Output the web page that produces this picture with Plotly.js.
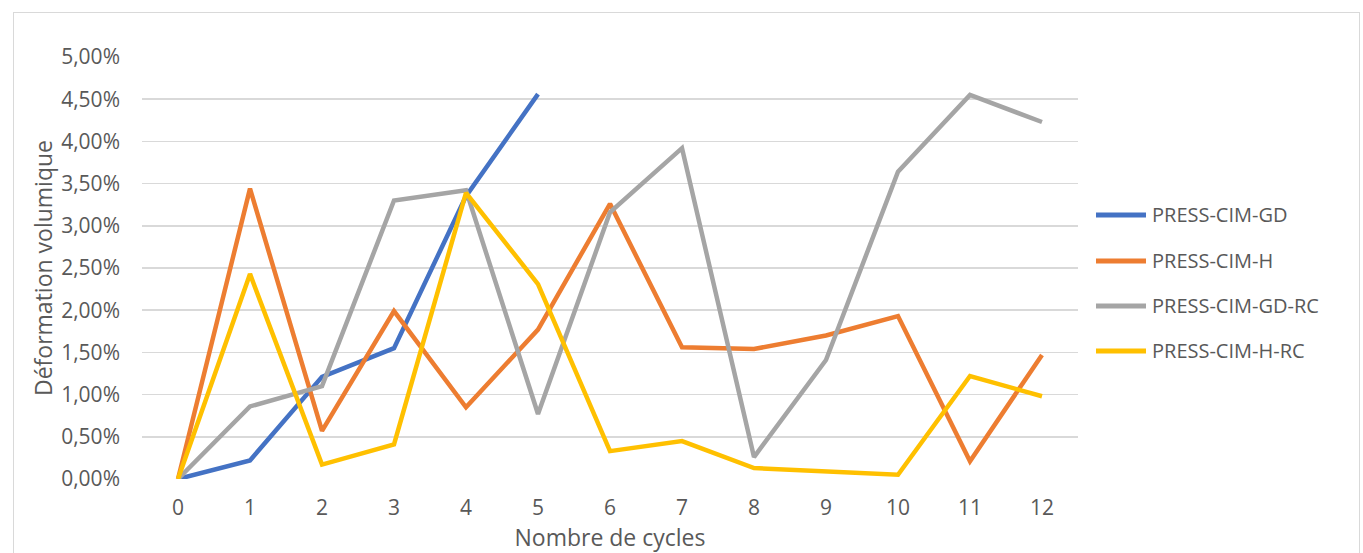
<!DOCTYPE html>
<html>
<head>
<meta charset="utf-8">
<script src="https://cdn.plot.ly/plotly-3.0.1.min.js"></script>
<style>
  html, body { margin: 0; padding: 0; background: #ffffff; }
  #frame { position: absolute; left: 13px; top: 12px; width: 1347px; height: 560px; border: 1px solid #d9d9d9; box-sizing: border-box; }
  #chart { position: absolute; left: 0; top: 0; width: 1363px; height: 553px; }
</style>
</head>
<body>
<div id="frame"></div>
<div id="chart"></div>
<script>
// Data (values in %)
const cycles = [0, 1, 2, 3, 4, 5, 6, 7, 8, 9, 10, 11, 12];
const seriesNames = ["PRESS-CIM-GD", "PRESS-CIM-H", "PRESS-CIM-GD-RC", "PRESS-CIM-H-RC"];
const pressCimGD   = [0, 0.22, 1.21, 1.55, 3.35, 4.56];
const pressCimH    = [0, 3.44, 0.57, 1.99, 0.85, 1.77, 3.26, 1.56, 1.54, 1.70, 1.93, 0.21, 1.47];
const pressCimGDRC = [0, 0.86, 1.10, 3.30, 3.42, 0.77, 3.16, 3.92, 0.26, 1.41, 3.64, 4.55, 4.23];
const pressCimHRC  = [0, 2.43, 0.17, 0.41, 3.39, 2.31, 0.33, 0.45, 0.13, 0.09, 0.05, 1.22, 0.98];
const yTicks = [0, 0.5, 1, 1.5, 2, 2.5, 3, 3.5, 4, 4.5, 5];
const yTickText = ["0,00%", "0,50%", "1,00%", "1,50%", "2,00%", "2,50%", "3,00%", "3,50%", "4,00%", "4,50%", "5,00%"];
const xTitle = "Nombre de cycles";
const yTitle = "Déformation volumique";

const colors = ["#4472C4", "#ED7D31", "#A5A5A5", "#FFC000"];
const allSeries = [pressCimGD, pressCimH, pressCimGDRC, pressCimHRC];

const FONT = "Open Sans, Noto Sans, sans-serif";
const TXT = "#595959";

const traces = allSeries.map((vals, i) => ({
  type: "scatter",
  mode: "lines",
  name: seriesNames[i],
  x: cycles.slice(0, vals.length),
  y: vals,
  line: { color: colors[i], width: 4.5 },
  showlegend: false,
  hoverinfo: "skip"
}));

// Custom legend (Excel-style long line samples)
const L = 142, R = 1078, T = 57, B = 479;
const W = R - L, H = B - T;
const px2x = p => (p - L) / W;
const px2y = p => (B - p) / H;
const legendY = [215, 261, 306, 351];
const shapes = [];
const annotations = [];
seriesNames.forEach((nm, i) => {
  shapes.push({
    type: "line", xref: "paper", yref: "paper",
    x0: px2x(1096), x1: px2x(1146), y0: px2y(legendY[i]), y1: px2y(legendY[i]),
    line: { color: colors[i], width: 5 }
  });
  annotations.push({
    xref: "paper", yref: "paper", x: px2x(1150), y: px2y(legendY[i] - 1),
    xanchor: "left", yanchor: "middle", showarrow: false,
    text: nm, font: { family: FONT, size: 20, color: TXT }
  });
});

const layout = {
  width: 1363, height: 553,
  margin: { l: L, r: 1363 - R, t: T, b: 553 - B, pad: 0 },
  paper_bgcolor: "rgba(0,0,0,0)",
  plot_bgcolor: "rgba(0,0,0,0)",
  showlegend: false,
  xaxis: {
    range: [-0.5, 12.5],
    tickvals: cycles,
    ticktext: cycles.map(String),
    showgrid: false, zeroline: false, showline: false,
    ticks: "",
    ticklabelstandoff: 14,
    tickfont: { family: FONT, size: 21, color: TXT },
    title: { text: xTitle, font: { family: FONT, size: 23, color: TXT }, standoff: 0 },
    fixedrange: true
  },
  yaxis: {
    range: [0, 5],
    tickvals: yTicks,
    ticktext: yTickText,
    showgrid: true, gridcolor: "#d9d9d9", gridwidth: 1.5,
    zeroline: false, showline: false,
    ticks: "",
    ticklabelstandoff: 21,
    tickfont: { family: FONT, size: 21, color: TXT },
    title: { text: yTitle, font: { family: FONT, size: 23, color: TXT }, standoff: 2 },
    fixedrange: true
  },
  shapes: shapes,
  annotations: annotations
};

Plotly.newPlot("chart", traces, layout, { displayModeBar: false, staticPlot: true });
</script>
</body>
</html>
